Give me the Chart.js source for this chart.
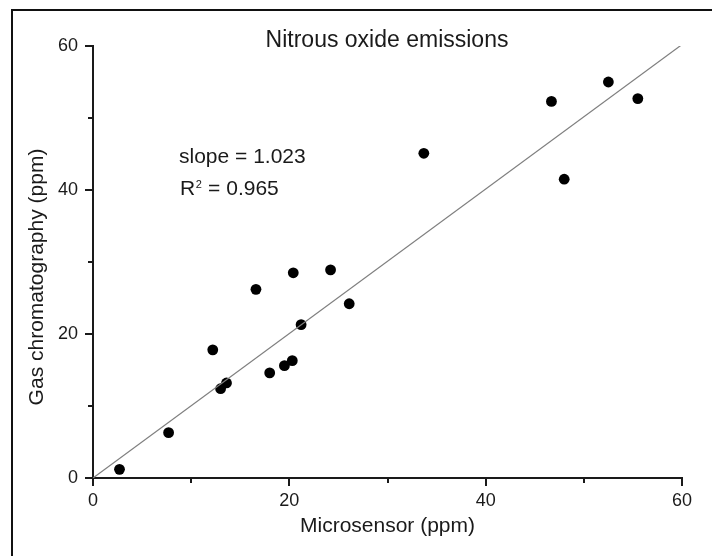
<!DOCTYPE html>
<html lang="en">
<head>
    <meta charset="UTF-8">
    <title>Nitrous oxide emissions</title>
    <script src="https://cdn.jsdelivr.net/npm/chart.js"></script>
    <style>
        body { margin: 0; background: #fff; overflow: hidden; }
        #frame {
            position: absolute; left: 11px; top: 9px;
            width: 800px; height: 700px;
            border-left: 2px solid #111; border-top: 2px solid #111;
        }
        #chart { position: absolute; left: 0; top: 0; }
    </style>
</head>
<body>
    <div id="frame"></div>
    <canvas id="chart" width="712" height="556"></canvas>

    <script>
        // measured values
        const microsensor = [2.7, 7.7, 12.2, 13.0, 13.6, 16.6, 18.0, 19.5, 20.3, 21.2, 20.4, 24.2, 26.1, 33.7, 46.7, 48.0, 52.5, 55.5];
        const gasChrom    = [1.2, 6.3, 17.8, 12.4, 13.2, 26.2, 14.6, 15.6, 16.3, 21.3, 28.5, 28.9, 24.2, 45.1, 52.3, 41.5, 55.0, 52.7];

        // fitted line end points
        const fitX = [0, 60];
        const fitY = [0, 60.2];

        const majorTicks = [0, 20, 40, 60];
        const fitText = ['slope = 1.023', '0.965'];

        const font = '"Liberation Sans", Arial, sans-serif';
        const ink = '#1a1a1a';

        // outward ticks, long for labelled values, short for the others
        const tickMarks = {
            id: 'tickMarks',
            afterDraw(chart) {
                const ctx = chart.ctx;
                const xs = chart.scales.x, ys = chart.scales.y;
                ctx.save();
                ctx.strokeStyle = ink;
                ctx.lineWidth = 2;
                ctx.beginPath();
                xs.ticks.forEach(t => {
                    const len = majorTicks.includes(t.value) ? 8 : 5;
                    const px = Math.round(xs.getPixelForValue(t.value));
                    ctx.moveTo(px, xs.top);
                    ctx.lineTo(px, xs.top + len);
                });
                ys.ticks.forEach(t => {
                    const len = majorTicks.includes(t.value) ? 8 : 5;
                    const py = Math.round(ys.getPixelForValue(t.value));
                    ctx.moveTo(ys.right, py);
                    ctx.lineTo(ys.right - len, py);
                });
                ctx.stroke();
                ctx.restore();
            }
        };

        // title, y-axis title and fit statistics
        const texts = {
            id: 'texts',
            afterDraw(chart) {
                const ctx = chart.ctx;
                ctx.save();
                ctx.fillStyle = ink;
                ctx.textBaseline = 'alphabetic';

                ctx.font = '23px ' + font;
                ctx.textAlign = 'center';
                ctx.fillText('Nitrous oxide emissions', 387, 47);

                ctx.save();
                ctx.translate(43, 277);
                ctx.rotate(-Math.PI / 2);
                ctx.font = '21px ' + font;
                ctx.fillText('Gas chromatography (ppm)', 0, 0);
                ctx.restore();

                ctx.textAlign = 'left';
                ctx.font = '21px ' + font;
                ctx.fillText(fitText[0], 179, 163);
                ctx.fillText('R', 180, 195);
                let x = 180 + ctx.measureText('R').width;
                ctx.font = '11px ' + font;
                ctx.fillText('2', x + 0.5, 188);
                x += ctx.measureText('2').width + 1;
                ctx.font = '21px ' + font;
                ctx.fillText(' = ' + fitText[1], x, 195);
                ctx.restore();
            }
        };

        const points = microsensor.map((v, i) => ({ x: v, y: gasChrom[i] }));
        const fitLine = fitX.map((v, i) => ({ x: v, y: fitY[i] }));

        new Chart(document.getElementById('chart').getContext('2d'), {
            type: 'scatter',
            data: {
                datasets: [
                    {
                        type: 'line',
                        data: fitLine,
                        borderColor: '#7f7f7f',
                        borderWidth: 1.2,
                        pointRadius: 0,
                        fill: false
                    },
                    {
                        data: points,
                        backgroundColor: '#000',
                        borderWidth: 0,
                        pointRadius: 5.4
                    }
                ]
            },
            options: {
                responsive: false,
                animation: false,
                devicePixelRatio: 1,
                layout: { padding: { top: 46, right: 30, left: 0, bottom: 0 } },
                plugins: { legend: { display: false }, tooltip: { enabled: false } },
                scales: {
                    x: {
                        type: 'linear',
                        min: 0, max: 60,
                        afterFit: s => { s.height = 78; },
                        grid: { drawOnChartArea: false, drawTicks: false },
                        border: { display: true, color: ink, width: 2 },
                        ticks: {
                            stepSize: 10, autoSkip: false, padding: 12,
                            color: ink, font: { family: font, size: 18 },
                            callback: v => (majorTicks.includes(v) ? v : '')
                        },
                        title: {
                            display: true, text: 'Microsensor (ppm)',
                            color: ink, font: { family: font, size: 21 },
                            padding: { top: 0, bottom: 17 }
                        }
                    },
                    y: {
                        type: 'linear',
                        min: 0, max: 60,
                        afterFit: s => { s.width = 93; },
                        grid: { drawOnChartArea: false, drawTicks: false },
                        border: { display: true, color: ink, width: 2 },
                        ticks: {
                            stepSize: 10, autoSkip: false, padding: 15,
                            color: ink, font: { family: font, size: 18 },
                            callback: v => (majorTicks.includes(v) ? v : '')
                        }
                    }
                }
            },
            plugins: [tickMarks, texts]
        });
    </script>
</body>
</html>
